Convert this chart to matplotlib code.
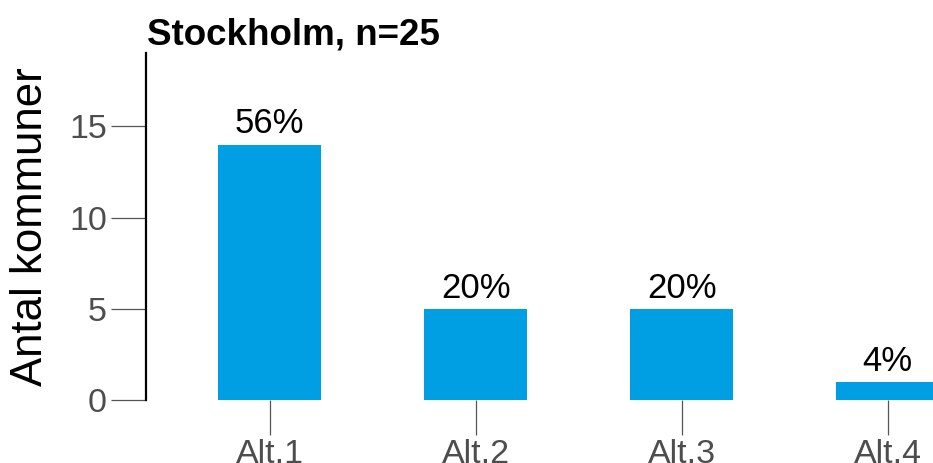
import matplotlib
matplotlib.use("Agg")
import matplotlib.pyplot as plt

# data
kategorier = ["Alt.1", "Alt.2", "Alt.3", "Alt.4"]
antal = [14, 5, 5, 1]
andel = ["56%", "20%", "20%", "4%"]
titel = "Stockholm, n=25"
ejey = "Antal kommuner"

plt.rcParams['font.family'] = ['Liberation Sans', 'DejaVu Sans']

fig = plt.figure(figsize=(9.33, 4.63), dpi=100)
ax = fig.add_axes([146/933, 63/463, 1 - 146/933, 346.7/463])

pos = list(range(len(kategorier)))
barras = ax.bar(pos, antal, 0.5, color="#009FE3")

for b, txt in zip(barras, andel):
	ax.annotate(txt, (b.get_x() + b.get_width()/2, b.get_height()),
	            xytext=(0, 3), textcoords="offset points",
	            ha="center", va="bottom", fontsize=25, color="black")

ax.set_xlim(-0.6, 3.22)
ax.set_ylim(0, 19)
ax.set_yticks([0, 5, 10, 15])
ax.set_xticks(pos)
ax.set_xticklabels(kategorier)

for s in ["top", "right", "bottom"]:
	ax.spines[s].set_visible(False)
ax.spines["left"].set_linewidth(1.6)
ax.spines["left"].set_color("black")

ax.tick_params(axis="both", length=25, width=0.9, color="#555555",
               labelcolor="#4D4D4D", labelsize=24.5, pad=3)

ax.set_ylabel(ejey, fontsize=31.5, labelpad=13)
fig.text(147/933, 1 - 44/463, titel, fontsize=26.5, fontweight="bold", ha="left", va="baseline")

fig.savefig("out.png", dpi=100)
plt.close()
